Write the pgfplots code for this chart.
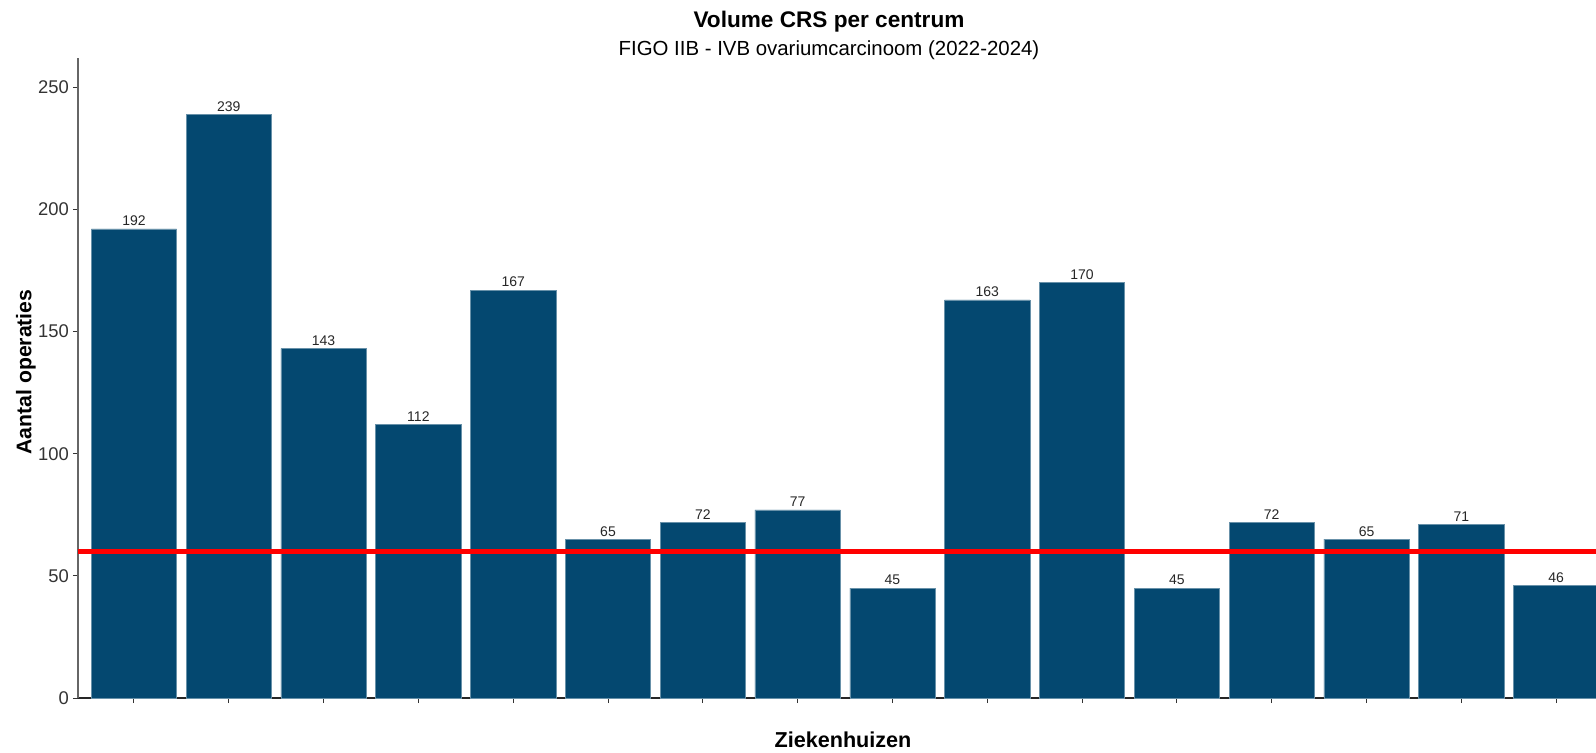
\documentclass[border=0pt]{standalone}
\usepackage{pgfplots}
\pgfplotsset{compat=1.18}
\usepackage{fontspec}
\setmainfont{Liberation Sans}
\definecolor{barblue}{RGB}{4,72,112}
\begin{document}
\begin{tikzpicture}
\begin{axis}[
  scale only axis,
  width=759pt, height=320pt,
  at={(0,0)}, anchor=south west,
  xmin=-0.59, xmax=15.42,
  ymin=0, ymax=262,
  axis x line*=bottom,
  axis y line*=left,
  x axis line style={black!85, line width=0.6pt},
  y axis line style={black!60, line width=0.6pt},
  xtick={0,...,15},
  xticklabels={},
  ytick={0,50,100,150,200,250},
  tick style={black!80, line width=0.5pt},
  tick align=outside,
  major tick length=2.5pt,
  every tick label/.append style={font=\fontsize{9.2}{10}\selectfont, text=black!80},
  /pgf/number format/assume math mode=true,
  yticklabel style={xshift=1.5pt},
  ybar, bar width=0.9,
  clip=true,
]
\addplot[fill=barblue, draw=barblue!60!white, line width=0.3pt,
  nodes near coords,
  every node near coord/.append style={font=\fontsize{7}{8}\selectfont, text=black!85, yshift=-2pt}]
  coordinates {(0,192) (1,239) (2,143) (3,112) (4,167) (5,65) (6,72) (7,77)
               (8,45) (9,163) (10,170) (11,45) (12,72) (13,65) (14,71) (15,46)};
\draw[red, line width=2.6pt] (axis cs:-0.59,60) -- (axis cs:15.42,60);
\end{axis}
\node[font=\bfseries\fontsize{11.3}{13}\selectfont] at (375.5pt,338pt) {Volume CRS per centrum};
\node[font=\fontsize{10.2}{12}\selectfont] at (375.5pt,324pt) {FIGO IIB - IVB ovariumcarcinoom (2022-2024)};
\node[font=\bfseries\fontsize{10.8}{12}\selectfont] at (382.5pt,-21pt) {Ziekenhuizen};
\node[font=\bfseries\fontsize{10.6}{12}\selectfont, rotate=90] at (-26pt,163pt) {Aantal operaties};
\pgfresetboundingbox
\useasboundingbox (-39pt,-27pt) rectangle (759pt,349pt);
\end{tikzpicture}
\end{document}
